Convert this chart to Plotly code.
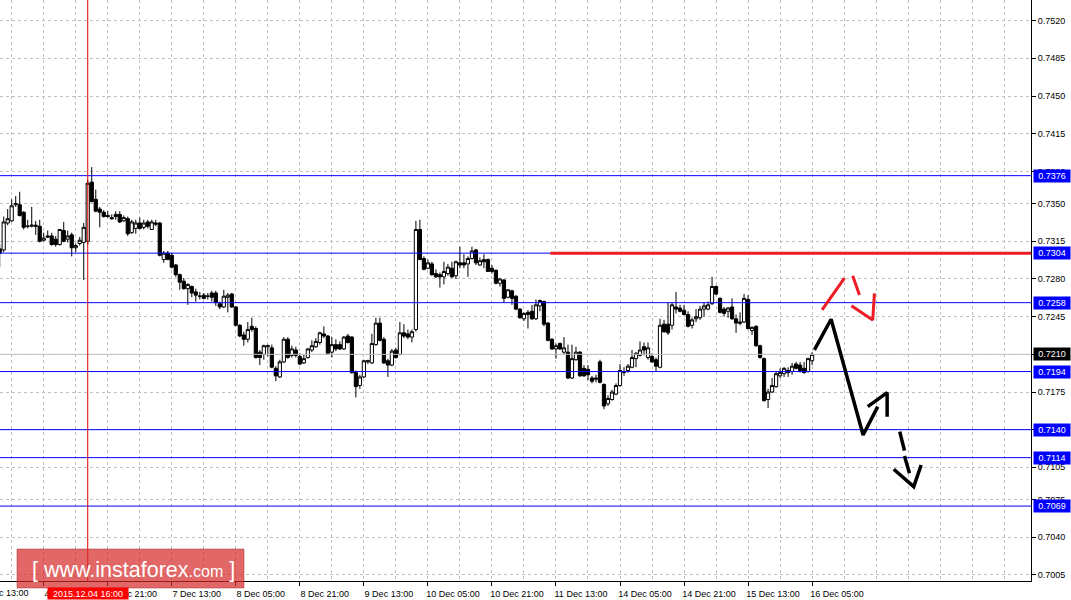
import plotly.graph_objects as go

# ---- H1 bars (bar index 0 = 3 Dec 13:00) ----
bar_index = list(range(5, 209))
opens = [0.7308,0.7307,0.7332,0.7334,0.7349,0.7349,0.7342,0.7329,0.7329,0.7330,
0.7329,0.7316,0.7320,0.7320,0.7317,0.7312,0.7325,0.7317,0.7321,0.7309,
0.7313,0.7314,0.7315,0.7370,0.7354,0.7345,0.7342,0.7339,0.7337,0.7340,
0.7340,0.7334,0.7336,0.7323,0.7327,0.7332,0.7328,0.7333,0.7326,0.7332,
0.7332,0.7298,0.7304,0.7302,0.7293,0.7284,0.7278,0.7271,0.7273,0.7268,
0.7264,0.7265,0.7264,0.7267,0.7267,0.7257,0.7254,0.7263,0.7266,0.7254,
0.7237,0.7228,0.7224,0.7236,0.7234,0.7212,0.7210,0.7217,0.7216,0.7197,
0.7189,0.7203,0.7224,0.7209,0.7214,0.7208,0.7202,0.7207,0.7214,0.7217,
0.7221,0.7229,0.7227,0.7212,0.7219,0.7219,0.7215,0.7227,0.7226,0.7193,
0.7181,0.7189,0.7203,0.7202,0.7219,0.7239,0.7224,0.7204,0.7200,0.7214,
0.7210,0.7230,0.7229,0.7226,0.7233,0.7326,0.7299,0.7290,0.7294,0.7285,
0.7284,0.7282,0.7285,0.7290,0.7283,0.7295,0.7295,0.7294,0.7299,0.7307,
0.7293,0.7298,0.7298,0.7290,0.7288,0.7276,0.7279,0.7263,0.7269,0.7264,
0.7252,0.7243,0.7249,0.7250,0.7243,0.7255,0.7259,0.7239,0.7224,0.7215,
0.7220,0.7212,0.7212,0.7188,0.7205,0.7212,0.7197,0.7196,0.7188,0.7188,
0.7203,0.7182,0.7164,0.7168,0.7173,0.7181,0.7193,0.7195,0.7198,0.7206,
0.7209,0.7217,0.7207,0.7208,0.7205,0.7198,0.7238,0.7238,0.7237,0.7254,
0.7253,0.7251,0.7247,0.7237,0.7243,0.7244,0.7252,0.7252,0.7257,0.7273,
0.7262,0.7252,0.7250,0.7254,0.7243,0.7240,0.7240,0.7261,0.7232,0.7236,
0.7218,0.7206,0.7168,0.7175,0.7180,0.7190,0.7192,0.7195,0.7194,0.7201,
0.7200,0.7197,0.7194,0.7204]
highs = [0.7312,0.7338,0.7345,0.7354,0.7357,0.7361,0.7343,0.7335,0.7347,0.7334,
0.7335,0.7323,0.7325,0.7323,0.7320,0.7326,0.7333,0.7325,0.7323,0.7313,
0.7319,0.7332,0.7372,0.7384,0.7363,0.7347,0.7344,0.7343,0.7340,0.7343,
0.7343,0.7339,0.7338,0.7335,0.7335,0.7337,0.7335,0.7335,0.7335,0.7335,
0.7333,0.7306,0.7306,0.7304,0.7294,0.7285,0.7281,0.7276,0.7274,0.7271,
0.7268,0.7267,0.7267,0.7269,0.7269,0.7259,0.7270,0.7267,0.7267,0.7255,
0.7238,0.7231,0.7240,0.7244,0.7236,0.7214,0.7219,0.7219,0.7219,0.7199,
0.7205,0.7226,0.7226,0.7218,0.7217,0.7211,0.7210,0.7216,0.7223,0.7225,
0.7231,0.7236,0.7228,0.7226,0.7224,0.7222,0.7227,0.7229,0.7227,0.7195,
0.7191,0.7205,0.7205,0.7229,0.7244,0.7244,0.7226,0.7206,0.7215,0.7216,
0.7240,0.7238,0.7233,0.7233,0.7334,0.7335,0.7301,0.7298,0.7296,0.7289,
0.7286,0.7296,0.7294,0.7296,0.7297,0.7310,0.7303,0.7301,0.7310,0.7308,
0.7300,0.7303,0.7299,0.7293,0.7289,0.7281,0.7280,0.7270,0.7270,0.7265,
0.7253,0.7249,0.7251,0.7256,0.7261,0.7261,0.7260,0.7240,0.7225,0.7220,
0.7221,0.7226,0.7219,0.7219,0.7217,0.7213,0.7200,0.7200,0.7190,0.7191,
0.7205,0.7183,0.7172,0.7177,0.7183,0.7201,0.7198,0.7201,0.7214,0.7212,
0.7222,0.7221,0.7221,0.7211,0.7207,0.7243,0.7242,0.7258,0.7258,0.7268,
0.7256,0.7256,0.7250,0.7244,0.7252,0.7255,0.7258,0.7259,0.7282,0.7274,
0.7263,0.7254,0.7254,0.7262,0.7247,0.7249,0.7266,0.7265,0.7236,0.7237,
0.7219,0.7207,0.7178,0.7188,0.7194,0.7197,0.7198,0.7198,0.7202,0.7203,
0.7203,0.7203,0.7207,0.7212]
lows = [0.7291,0.7305,0.7330,0.7333,0.7347,0.7338,0.7326,0.7327,0.7328,0.7321,
0.7314,0.7315,0.7318,0.7311,0.7310,0.7311,0.7314,0.7314,0.7301,0.7305,
0.7311,0.7279,0.7312,0.7351,0.7342,0.7328,0.7337,0.7337,0.7335,0.7335,
0.7332,0.7333,0.7320,0.7322,0.7322,0.7326,0.7326,0.7327,0.7326,0.7329,
0.7301,0.7295,0.7298,0.7290,0.7282,0.7270,0.7270,0.7256,0.7263,0.7259,
0.7261,0.7261,0.7261,0.7259,0.7255,0.7252,0.7253,0.7249,0.7253,0.7236,
0.7226,0.7218,0.7221,0.7231,0.7206,0.7200,0.7205,0.7208,0.7197,0.7185,
0.7188,0.7202,0.7206,0.7207,0.7207,0.7200,0.7201,0.7206,0.7212,0.7216,
0.7219,0.7225,0.7210,0.7207,0.7213,0.7214,0.7214,0.7220,0.7192,0.7170,
0.7178,0.7188,0.7201,0.7201,0.7218,0.7222,0.7201,0.7189,0.7199,0.7206,
0.7209,0.7225,0.7224,0.7221,0.7231,0.7298,0.7288,0.7289,0.7283,0.7281,
0.7272,0.7275,0.7283,0.7281,0.7280,0.7290,0.7290,0.7282,0.7298,0.7293,
0.7292,0.7290,0.7287,0.7285,0.7275,0.7273,0.7258,0.7262,0.7256,0.7251,
0.7243,0.7241,0.7234,0.7242,0.7242,0.7250,0.7236,0.7222,0.7214,0.7206,
0.7214,0.7210,0.7187,0.7187,0.7204,0.7189,0.7189,0.7186,0.7183,0.7184,
0.7183,0.7159,0.7162,0.7167,0.7172,0.7180,0.7190,0.7193,0.7197,0.7198,
0.7208,0.7209,0.7205,0.7202,0.7194,0.7197,0.7230,0.7228,0.7233,0.7248,
0.7249,0.7246,0.7235,0.7234,0.7240,0.7242,0.7245,0.7251,0.7256,0.7265,
0.7248,0.7245,0.7244,0.7242,0.7230,0.7237,0.7239,0.7233,0.7228,0.7217,
0.7206,0.7166,0.7160,0.7174,0.7179,0.7188,0.7189,0.7189,0.7191,0.7196,
0.7193,0.7192,0.7193,0.7200]
closes = [0.7304,0.7333,0.7336,0.7348,0.7350,0.7339,0.7328,0.7329,0.7330,0.7329,
0.7315,0.7318,0.7319,0.7312,0.7312,0.7326,0.7315,0.7320,0.7309,0.7311,
0.7316,0.7328,0.7369,0.7352,0.7343,0.7342,0.7338,0.7338,0.7336,0.7338,
0.7333,0.7337,0.7322,0.7333,0.7332,0.7327,0.7332,0.7329,0.7333,0.7331,
0.7302,0.7304,0.7298,0.7291,0.7284,0.7277,0.7271,0.7275,0.7267,0.7265,
0.7264,0.7262,0.7264,0.7263,0.7258,0.7254,0.7264,0.7265,0.7254,0.7237,
0.7227,0.7224,0.7233,0.7233,0.7207,0.7207,0.7218,0.7218,0.7198,0.7190,
0.7203,0.7224,0.7207,0.7215,0.7209,0.7201,0.7206,0.7215,0.7218,0.7222,
0.7230,0.7227,0.7211,0.7219,0.7215,0.7215,0.7226,0.7221,0.7193,0.7180,
0.7189,0.7204,0.7204,0.7220,0.7239,0.7223,0.7202,0.7200,0.7213,0.7207,
0.7230,0.7227,0.7226,0.7231,0.7326,0.7298,0.7289,0.7295,0.7284,0.7282,
0.7282,0.7287,0.7291,0.7282,0.7296,0.7293,0.7293,0.7299,0.7306,0.7295,
0.7297,0.7296,0.7287,0.7287,0.7276,0.7280,0.7262,0.7270,0.7262,0.7252,
0.7244,0.7248,0.7247,0.7243,0.7256,0.7260,0.7238,0.7223,0.7215,0.7218,
0.7215,0.7216,0.7188,0.7206,0.7212,0.7190,0.7190,0.7191,0.7185,0.7187,
0.7184,0.7162,0.7169,0.7175,0.7181,0.7195,0.7194,0.7199,0.7207,0.7211,
0.7214,0.7214,0.7216,0.7203,0.7199,0.7237,0.7231,0.7230,0.7256,0.7252,
0.7250,0.7247,0.7236,0.7242,0.7245,0.7252,0.7255,0.7256,0.7273,0.7266,
0.7249,0.7248,0.7253,0.7243,0.7239,0.7239,0.7262,0.7234,0.7235,0.7218,
0.7207,0.7167,0.7175,0.7181,0.7192,0.7193,0.7197,0.7193,0.7199,0.7197,
0.7195,0.7193,0.7206,0.7210]

# ---- axes ----
time_tick_bars = [0, 16, 32, 48, 64, 80, 96, 112, 128, 144, 160, 176, 192, 208]
time_tick_text = ["3 Dec 13:00", "4 Dec 05:00", "4 Dec 21:00", "7 Dec 13:00",
                  "8 Dec 05:00", "8 Dec 21:00", "9 Dec 13:00", "10 Dec 05:00",
                  "10 Dec 21:00", "11 Dec 13:00", "14 Dec 05:00", "14 Dec 21:00",
                  "15 Dec 13:00", "16 Dec 05:00"]
price_ticks = [0.7520, 0.7485, 0.7450, 0.7415, 0.7380, 0.7350, 0.7315, 0.7280,
               0.7245, 0.7210, 0.7175, 0.7140, 0.7105, 0.7075, 0.7040, 0.7005]
x_range = [5.075, 262.7]
y_range = [0.69994, 0.75392]

# ---- levels ----
blue_levels = [0.7376, 0.7304, 0.7258, 0.7194, 0.7140, 0.7114, 0.7069]
current_price = 0.7210
resistance_level = 0.7304
resistance_start_bar = 142.6
crosshair_bar = 27
crosshair_label = "2015.12.04 16:00"

# ---- forecast drawings (bar index, price) ----
black_fc_x = [208.58, 212.75, 220.75, 224.4, None, 221.9, 226.75, 226.75]
black_fc_y = [0.72141, 0.72426, 0.71351, 0.71614, None, 0.71614, 0.71744, 0.71521]
black_dash_x = [229.9, 231.08, None, 231.08, 232.33, None, 228.4, 233.4, 235.25]
black_dash_y = [0.71382, 0.71205, None, 0.71156, 0.70995, None, 0.71032, 0.70871, 0.71072]
red_fc_x = [210.5, 216.08, None, 218.15, 219.83, None, 217.83, 223.15, 223.58]
red_fc_y = [0.72512, 0.72807, None, 0.72831, 0.72651, None, 0.72552, 0.72419, 0.72667]

BLUE = "#0000ff"
RED = "#ed1c24"
FONT = "Liberation Sans"

fig = go.Figure()

for lv in blue_levels:
    fig.add_trace(go.Scatter(x=x_range, y=[lv, lv], mode="lines",
                             line=dict(color=BLUE, width=1), hoverinfo="skip"))
fig.add_trace(go.Scatter(x=x_range, y=[current_price, current_price], mode="lines",
                         line=dict(color="#c0c0c0", width=1), hoverinfo="skip"))

fig.add_trace(go.Candlestick(
    x=bar_index, open=opens, high=highs, low=lows, close=closes,
    increasing=dict(line=dict(color="black", width=1), fillcolor="white"),
    decreasing=dict(line=dict(color="black", width=1), fillcolor="black"),
    whiskerwidth=0, hoverinfo="skip"))

fig.add_trace(go.Scatter(x=[crosshair_bar, crosshair_bar], y=y_range, mode="lines",
                         line=dict(color="#e00000", width=1), hoverinfo="skip"))
fig.add_trace(go.Scatter(x=[resistance_start_bar, x_range[1]],
                         y=[resistance_level, resistance_level], mode="lines",
                         line=dict(color=RED, width=3), hoverinfo="skip"))
fig.add_trace(go.Scatter(x=red_fc_x, y=red_fc_y, mode="lines",
                         line=dict(color=RED, width=3), hoverinfo="skip"))
fig.add_trace(go.Scatter(x=black_fc_x, y=black_fc_y, mode="lines",
                         line=dict(color="black", width=3.5), hoverinfo="skip"))
fig.add_trace(go.Scatter(x=black_dash_x, y=black_dash_y, mode="lines",
                         line=dict(color="black", width=3.5), hoverinfo="skip"))

grid = dict(showgrid=True, gridcolor="#c0c0c0", gridwidth=1, griddash="3px,3px")

fig.update_layout(
    width=1071, height=600,
    margin=dict(l=0, r=40, t=0, b=19),
    paper_bgcolor="white", plot_bgcolor="white",
    showlegend=False,
    boxgap=0.2, boxgroupgap=0.0,
    font=dict(family=FONT, size=9, color="black"),
    xaxis=dict(range=x_range, rangeslider=dict(visible=False),
               tickmode="array", tickvals=time_tick_bars, ticktext=time_tick_text,
               ticks="outside", ticklen=4, tickcolor="black", ticklabelshift=25,
               showline=True, linecolor="black", linewidth=1, zeroline=False,
               tickfont=dict(family=FONT, size=9, color="black"),
               minor=dict(tick0=0, dtick=8, ticks="", **grid),
               **grid),
    yaxis=dict(range=y_range, side="right", tickmode="array",
               tickvals=price_ticks, ticktext=[f"{p:.4f}" for p in price_ticks],
               ticks="outside", ticklen=4, tickcolor="black",
               showline=True, linecolor="black", linewidth=1, zeroline=False,
               tickfont=dict(family=FONT, size=9, color="black"),
               **grid),
)

# first (partially visible) time label, placed via the axis range
first_frac = (time_tick_bars[0] - x_range[0]) / (x_range[1] - x_range[0])
fig.add_annotation(x=first_frac, xref="paper", y=0, yref="paper", yanchor="top",
                   xanchor="left", xshift=-2, yshift=-5, text=time_tick_text[0],
                   showarrow=False, font=dict(family=FONT, size=9, color="black"))

# highlighted price labels on the right scale
for lv in blue_levels + [current_price]:
    bg = "black" if lv == current_price else BLUE
    fig.add_annotation(x=1, xref="paper", xanchor="left", xshift=2,
                       y=lv, yref="y", yanchor="middle",
                       text=f"{lv:.4f}", showarrow=False, width=34, height=10,
                       borderpad=1, bgcolor=bg, align="center",
                       font=dict(family=FONT, size=9, color="white"))

# crosshair time label
fig.add_annotation(x=crosshair_bar, xref="x", y=0, yref="paper", yanchor="top",
                   yshift=-6, text=crosshair_label, showarrow=False,
                   width=78, height=9, borderpad=1, bgcolor="#ff0000",
                   font=dict(family=FONT, size=9, color="white"))

# watermark
fig.add_shape(type="rect", xref="paper", yref="paper",
              x0=17 / 1031, x1=244 / 1031, y0=-7 / 581, y1=32 / 581,
              fillcolor="rgba(214,40,40,0.7)", line=dict(color="rgba(170,50,50,0.5)", width=1))
fig.add_annotation(x=133 / 1031, xref="paper", y=11 / 581, yref="paper",
                   xanchor="center", yanchor="middle", showarrow=False,
                   text="[ www.instaforex<span style='font-size:16px'>.com</span> ]",
                   font=dict(family=FONT, size=21.5, color="white"))

fig.write_html("out.html", config={"displayModeBar": False},
               post_script="document.body.style.margin='0';document.body.style.overflow='hidden';")
